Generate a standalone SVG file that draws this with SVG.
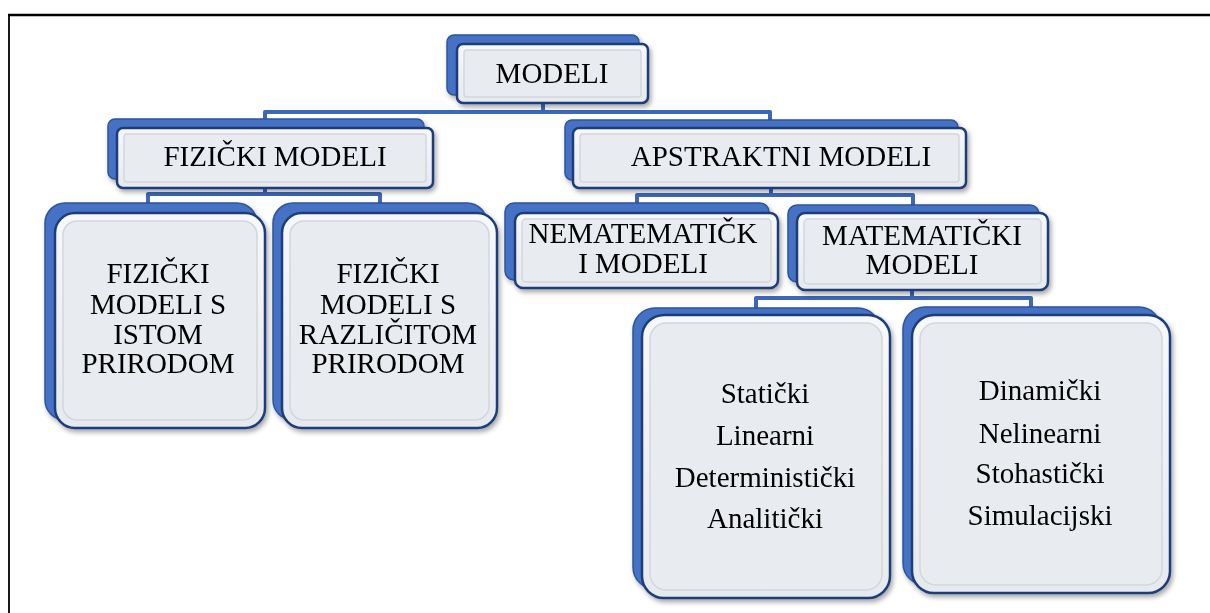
<svg xmlns="http://www.w3.org/2000/svg" width="1210" height="613" viewBox="0 0 1210 613">
<defs>
<filter id="sh" x="-10%" y="-10%" width="120%" height="125%">
<feDropShadow dx="2" dy="3" stdDeviation="2.5" flood-color="#000" flood-opacity="0.35"/>
</filter>
<linearGradient id="face" x1="0" y1="0" x2="0" y2="1">
<stop offset="0" stop-color="#f7f8fa"/>
<stop offset="1" stop-color="#e6e9ee"/>
</linearGradient>
</defs>
<style>
.back{fill:#4472c4;stroke:#2f5597;stroke-width:1.5}
.front{fill:url(#face);stroke:#1f3d7a;stroke-width:2.5}
.inner{fill:#e8ebef;stroke:#d3d6db;stroke-width:1.5}
.t{font-family:"Liberation Serif","Times New Roman",serif;font-size:29px;fill:#000;text-anchor:middle}
.conn{fill:none;stroke:#3c68b8;stroke-width:4;stroke-linejoin:round}
.frame{stroke:#000;fill:none}
</style>
<rect width="1210" height="613" fill="#fff"/>
<line class="frame" x1="8" y1="15" x2="1210" y2="15" stroke-width="2.5"/>
<line class="frame" x1="9" y1="15" x2="9" y2="613" stroke-width="1.8"/>

<g id="connectors">
<path class="conn" d="M543,103 V112 M265,121 V112 H770 V121"/>
<path class="conn" d="M265,188 V194 M148,204 V194 H380 V204"/>
<path class="conn" d="M771,188 V195 M637,205 V195 H913 V205"/>
<path class="conn" d="M912,290 V298 M756,309 V298 H1031 V309"/>
</g>

<g id="modeli" filter="url(#sh)">
<rect class="back" x="447" y="35" width="192" height="60" rx="7"/>
<rect class="front" x="457" y="44" width="191" height="59" rx="6"/>
<rect class="inner" x="464" y="50" width="177" height="47" rx="3"/>
<text class="t" x="552" y="83">MODELI</text>
</g>

<g id="fizicki-modeli" filter="url(#sh)">
<rect class="back" x="108" y="119" width="316" height="60" rx="7"/>
<rect class="front" x="117" y="128" width="316" height="60" rx="6"/>
<rect class="inner" x="124" y="134" width="302" height="48" rx="3"/>
<text class="t" x="275" y="166">FIZIČKI MODELI</text>
</g>

<g id="apstraktni-modeli" filter="url(#sh)">
<rect class="back" x="565" y="120" width="393" height="60" rx="7"/>
<rect class="front" x="573" y="128" width="393" height="60" rx="6"/>
<rect class="inner" x="580" y="134" width="379" height="48" rx="3"/>
<text class="t" x="781" y="166">APSTRAKTNI MODELI</text>
</g>

<g id="fizicki-istom" filter="url(#sh)">
<rect class="back" x="45" y="203" width="212" height="217" rx="20"/>
<rect class="front" x="55" y="213" width="210" height="215" rx="20"/>
<rect class="inner" x="63" y="221" width="194" height="199" rx="14"/>
<text class="t" x="158" y="283">FIZIČKI</text>
<text class="t" x="158" y="314">MODELI S</text>
<text class="t" x="158" y="344">ISTOM</text>
<text class="t" x="158" y="373">PRIRODOM</text>
</g>

<g id="fizicki-razlicitom" filter="url(#sh)">
<rect class="back" x="273" y="203" width="214" height="217" rx="20"/>
<rect class="front" x="282" y="213" width="215" height="215" rx="20"/>
<rect class="inner" x="290" y="221" width="199" height="199" rx="14"/>
<text class="t" x="388" y="283">FIZIČKI</text>
<text class="t" x="388" y="314">MODELI S</text>
<text class="t" x="388" y="344">RAZLIČITOM</text>
<text class="t" x="388" y="373">PRIRODOM</text>
</g>

<g id="nematematicki" filter="url(#sh)">
<rect class="back" x="505" y="203" width="264" height="77" rx="9"/>
<rect class="front" x="515" y="213" width="263" height="75" rx="8"/>
<rect class="inner" x="522" y="219" width="249" height="63" rx="4"/>
<text class="t" x="643" y="243">NEMATEMATIČK</text>
<text class="t" x="643" y="273">I MODELI</text>
</g>

<g id="matematicki" filter="url(#sh)">
<rect class="back" x="788" y="205" width="251" height="77" rx="9"/>
<rect class="front" x="797" y="213" width="251" height="77" rx="8"/>
<rect class="inner" x="804" y="219" width="237" height="65" rx="4"/>
<text class="t" x="922" y="245">MATEMATIČKI</text>
<text class="t" x="922" y="274">MODELI</text>
</g>

<g id="staticki" filter="url(#sh)">
<rect class="back" x="633" y="308" width="247" height="281" rx="22"/>
<rect class="front" x="642" y="315" width="248" height="283" rx="22"/>
<rect class="inner" x="650" y="323" width="232" height="267" rx="16"/>
<text class="t" x="765" y="403">Statički</text>
<text class="t" x="765" y="445">Linearni</text>
<text class="t" x="765" y="487">Deterministički</text>
<text class="t" x="765" y="528">Analitički</text>
</g>

<g id="dinamicki" filter="url(#sh)">
<rect class="back" x="903" y="307" width="258" height="278" rx="22"/>
<rect class="front" x="912" y="315" width="258" height="278" rx="22"/>
<rect class="inner" x="920" y="323" width="242" height="262" rx="16"/>
<text class="t" x="1040" y="400">Dinamički</text>
<text class="t" x="1040" y="443">Nelinearni</text>
<text class="t" x="1040" y="483">Stohastički</text>
<text class="t" x="1040" y="525">Simulacijski</text>
</g>
</svg>
